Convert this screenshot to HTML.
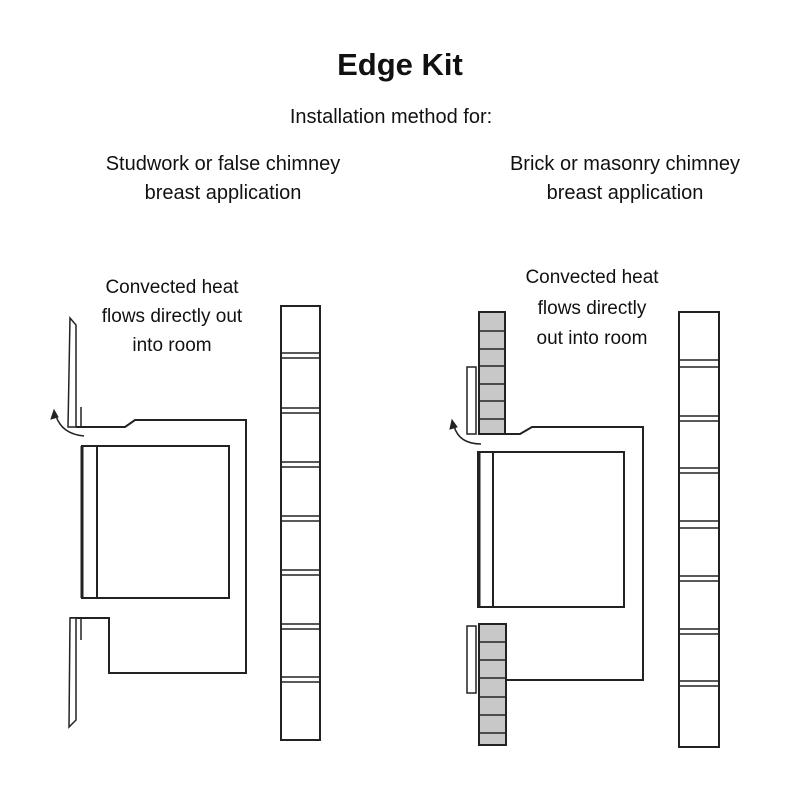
<!DOCTYPE html>
<html><head><meta charset="utf-8"><style>
html,body{margin:0;padding:0;background:#fff;}
svg{display:block;}
text{font-family:"Liberation Sans",sans-serif;fill:#111;text-anchor:middle;}
</style></head><body>
<svg width="800" height="800" viewBox="0 0 800 800" xmlns="http://www.w3.org/2000/svg">
<rect width="800" height="800" fill="#fff"/>
<text x="400" y="75" font-size="31" font-weight="bold">Edge Kit</text>
<text x="391" y="123" font-size="20">Installation method for:</text>
<text x="223" y="170" font-size="20">Studwork or false chimney</text>
<text x="223" y="199" font-size="20">breast application</text>
<text x="625" y="170" font-size="20">Brick or masonry chimney</text>
<text x="625" y="199" font-size="20">breast application</text>
<text x="172" y="293" font-size="19">Convected heat</text>
<text x="172" y="322" font-size="19">flows directly out</text>
<text x="172" y="351" font-size="19">into room</text>
<text x="592" y="283" font-size="19">Convected heat</text>
<text x="592" y="314" font-size="19">flows directly</text>
<text x="592" y="344" font-size="19">out into room</text>

<g fill="none" stroke="#222" stroke-width="2">
<!-- LEFT -->
<path d="M70 318 L76 325 L76 427 L68 427 Z" fill="#fff" stroke-width="1.5"/>
<line x1="81" y1="407" x2="81" y2="427" stroke-width="1.5"/>
<path d="M76 427 L125 427 L135 420 L246 420 L246 673 L109 673 L109 618 L70 618"/>
<path d="M70 618 L76 618 L76 720 L69 727 Z" fill="#fff" stroke-width="1.5"/>
<line x1="81" y1="618" x2="81" y2="640" stroke-width="1.5"/>
<rect x="82" y="446" width="147" height="152"/>
<line x1="82" y1="446" x2="82" y2="598" stroke-width="3"/>
<line x1="97" y1="446" x2="97" y2="598"/>
<path d="M84 436 Q62 434 56 416" stroke-width="1.5"/>
<path d="M54 410 L51 419 L58 417 Z" fill="#222" stroke-width="1"/>
<rect x="281" y="306" width="39" height="434"/>
<g stroke-width="1.5">
<line x1="281" y1="353" x2="320" y2="353"/><line x1="281" y1="358" x2="320" y2="358"/>
<line x1="281" y1="408" x2="320" y2="408"/><line x1="281" y1="413" x2="320" y2="413"/>
<line x1="281" y1="462" x2="320" y2="462"/><line x1="281" y1="467" x2="320" y2="467"/>
<line x1="281" y1="516" x2="320" y2="516"/><line x1="281" y1="521" x2="320" y2="521"/>
<line x1="281" y1="570" x2="320" y2="570"/><line x1="281" y1="575" x2="320" y2="575"/>
<line x1="281" y1="624" x2="320" y2="624"/><line x1="281" y1="629" x2="320" y2="629"/>
<line x1="281" y1="677" x2="320" y2="677"/><line x1="281" y1="682" x2="320" y2="682"/>
</g>

<!-- RIGHT -->
<rect x="479" y="312" width="26" height="122" fill="#c8c8c8"/>
<g stroke-width="1.5">
<line x1="479" y1="331" x2="505" y2="331"/><line x1="479" y1="349" x2="505" y2="349"/>
<line x1="479" y1="366" x2="505" y2="366"/><line x1="479" y1="384" x2="505" y2="384"/>
<line x1="479" y1="401" x2="505" y2="401"/><line x1="479" y1="419" x2="505" y2="419"/>
</g>
<rect x="467" y="367" width="9" height="67" fill="#fff" stroke-width="1.5"/>
<path d="M505 434 L520 434 L532 427 L643 427 L643 680 L506 680"/>
<rect x="479" y="624" width="27" height="121" fill="#c8c8c8"/>
<g stroke-width="1.5">
<line x1="479" y1="642" x2="506" y2="642"/><line x1="479" y1="660" x2="506" y2="660"/>
<line x1="479" y1="678" x2="506" y2="678"/><line x1="479" y1="697" x2="506" y2="697"/>
<line x1="479" y1="715" x2="506" y2="715"/><line x1="479" y1="733" x2="506" y2="733"/>
</g>
<rect x="467" y="626" width="9" height="67" fill="#fff" stroke-width="1.5"/>
<rect x="478" y="452" width="146" height="155"/>
<line x1="479" y1="452" x2="479" y2="607" stroke-width="3"/>
<line x1="493" y1="452" x2="493" y2="607"/>
<path d="M481 444 Q459 444 454 426" stroke-width="1.5"/>
<path d="M452 420 L450 429 L457 427 Z" fill="#222" stroke-width="1"/>
<rect x="679" y="312" width="40" height="435"/>
<g stroke-width="1.5">
<line x1="679" y1="360" x2="719" y2="360"/><line x1="679" y1="367" x2="719" y2="367"/>
<line x1="679" y1="416" x2="719" y2="416"/><line x1="679" y1="421" x2="719" y2="421"/>
<line x1="679" y1="468" x2="719" y2="468"/><line x1="679" y1="473" x2="719" y2="473"/>
<line x1="679" y1="521" x2="719" y2="521"/><line x1="679" y1="528" x2="719" y2="528"/>
<line x1="679" y1="576" x2="719" y2="576"/><line x1="679" y1="581" x2="719" y2="581"/>
<line x1="679" y1="629" x2="719" y2="629"/><line x1="679" y1="634" x2="719" y2="634"/>
<line x1="679" y1="681" x2="719" y2="681"/><line x1="679" y1="686" x2="719" y2="686"/>
</g>
</g>
</svg>
</body></html>
